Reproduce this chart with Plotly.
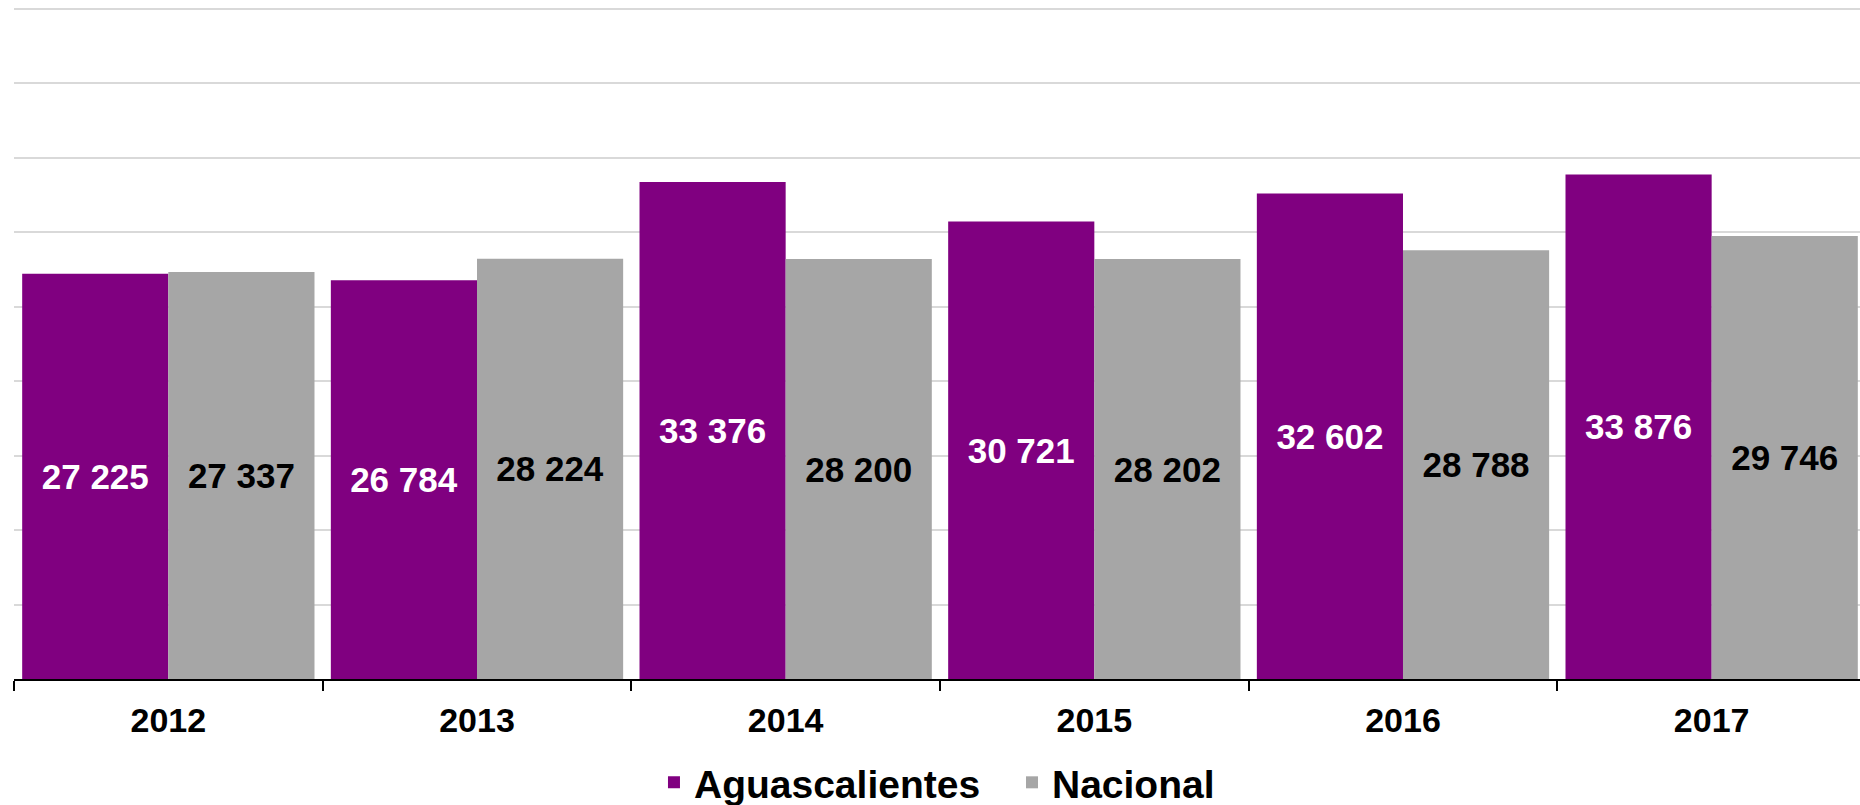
import plotly.graph_objects as go

years = ["2012", "2013", "2014", "2015", "2016", "2017"]
aguascalientes = [27225, 26784, 33376, 30721, 32602, 33876]
nacional = [27337, 28224, 28200, 28202, 28788, 29746]
series_names = ["Aguascalientes", "Nacional"]

PURPLE = "#800080"
GRAY = "#a6a6a6"
FONT = "Liberation Sans, Arial, sans-serif"

def fmt(v):
    return f"{v:,}".replace(",", " ")

fig = go.Figure()
fig.add_trace(go.Bar(
    x=years, y=aguascalientes, name=series_names[0],
    marker=dict(color=PURPLE, line=dict(width=0)),
    text=[fmt(v) for v in aguascalientes],
    textposition="inside", insidetextanchor="middle", textangle=0,
    constraintext="none",
    textfont=dict(family=FONT, size=35, color="white", weight="bold"),
    hoverinfo="skip",
))
fig.add_trace(go.Bar(
    x=years, y=nacional, name=series_names[1],
    marker=dict(color=GRAY, line=dict(width=0)),
    text=[fmt(v) for v in nacional],
    textposition="inside", insidetextanchor="middle", textangle=0,
    constraintext="none",
    textfont=dict(family=FONT, size=35, color="black", weight="bold"),
    hoverinfo="skip",
))

fig.update_layout(
    width=1860, height=805,
    margin=dict(l=14, r=0, t=6, b=126, autoexpand=False),
    paper_bgcolor="white", plot_bgcolor="white",
    barmode="group", bargap=0.053, bargroupgap=0,
    showlegend=True,
    legend=dict(
        orientation="h", xref="container", x=0.3516, xanchor="left",
        yref="container", y=0.028, yanchor="middle",
        entrywidth=313,
        font=dict(family=FONT, size=39, color="black", weight="bold"),
        bgcolor="rgba(0,0,0,0)", borderwidth=0,
        traceorder="normal",
    ),
    xaxis=dict(
        type="category", range=[-0.5, 5.4806], automargin=False,
        showline=True, linecolor="black", linewidth=1.5,
        ticks="outside", tickson="boundaries", ticklen=10, tickcolor="black", tickwidth=1.5,
        ticklabelstandoff=10,
        showgrid=False,
        tickfont=dict(family=FONT, size=34, color="black", weight="bold"),
    ),
    yaxis=dict(
        range=[0, 45200], dtick=5000, tick0=0, automargin=False,
        showgrid=True, gridcolor="#d9d9d9", gridwidth=1.5,
        zeroline=False, showticklabels=False, ticks="",
        showline=False,
    ),
)

fig.write_html(
    "out.html",
    config={"displayModeBar": False},
    post_script="document.body.style.margin='0';document.body.style.overflow='hidden';",
)
